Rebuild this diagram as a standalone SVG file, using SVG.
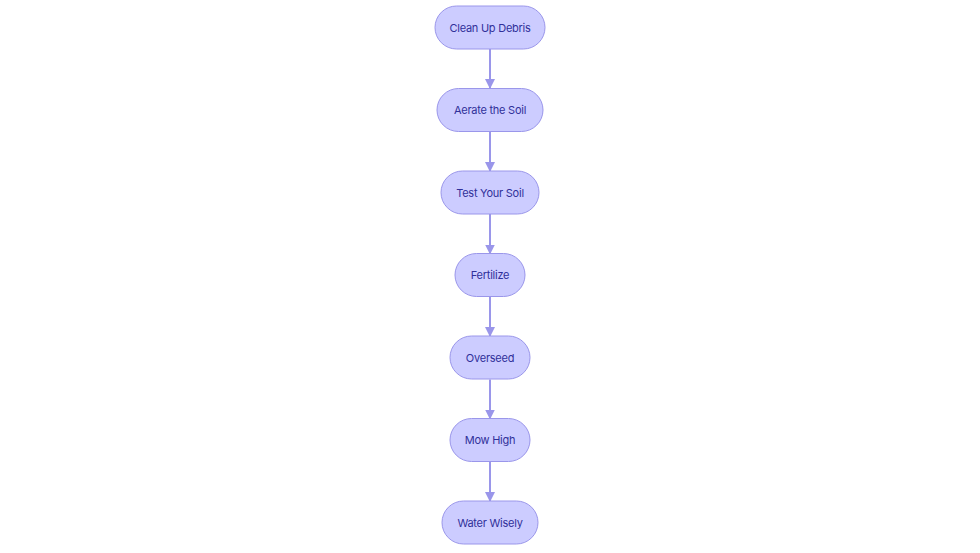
<svg xmlns="http://www.w3.org/2000/svg" width="980" height="553" viewBox="0 0 980 553">
<style>
.n rect{fill:#ccccff;stroke:#9a96ea;stroke-width:1}
.n text{font-family:Inter,"Noto Sans",sans-serif;font-size:11px;letter-spacing:-0.25px;fill:#30309a;text-anchor:middle;dominant-baseline:central}
.e line{stroke:#9a96ea;stroke-width:2}
</style>
<defs>
<marker id="ah" markerWidth="10" markerHeight="10" refX="9" refY="5" orient="auto" markerUnits="userSpaceOnUse">
<path d="M0,0 L10,5 L0,10 z" fill="#9a96ea"/>
</marker>
</defs>
<rect width="980" height="553" fill="#ffffff"/>
<g class="e">
<line x1="490" y1="49" x2="490" y2="88" marker-end="url(#ah)"/>
<line x1="490" y1="132" x2="490" y2="171" marker-end="url(#ah)"/>
<line x1="490" y1="214" x2="490" y2="253.5" marker-end="url(#ah)"/>
<line x1="490" y1="297" x2="490" y2="336" marker-end="url(#ah)"/>
<line x1="490" y1="379.5" x2="490" y2="418.5" marker-end="url(#ah)"/>
<line x1="490" y1="462" x2="490" y2="501" marker-end="url(#ah)"/>
</g>
<g id="n1" class="n"><rect x="435" y="6" width="110" height="43" rx="21.5"/><text x="490" y="27.5">Clean Up Debris</text></g>
<g id="n2" class="n"><rect x="437" y="88.5" width="106" height="43" rx="21.5"/><text x="490" y="110">Aerate the Soil</text></g>
<g id="n3" class="n"><rect x="441" y="171" width="98" height="43" rx="21.5"/><text x="490" y="192.5">Test Your Soil</text></g>
<g id="n4" class="n"><rect x="455" y="253.5" width="70" height="43" rx="21.5"/><text x="490" y="275">Fertilize</text></g>
<g id="n5" class="n"><rect x="450" y="336" width="80" height="43" rx="21.5"/><text x="490" y="357.5">Overseed</text></g>
<g id="n6" class="n"><rect x="450" y="418.5" width="80" height="43" rx="21.5"/><text x="490" y="440">Mow High</text></g>
<g id="n7" class="n"><rect x="442" y="501" width="96" height="43" rx="21.5"/><text x="490" y="522.5">Water Wisely</text></g>
</svg>
